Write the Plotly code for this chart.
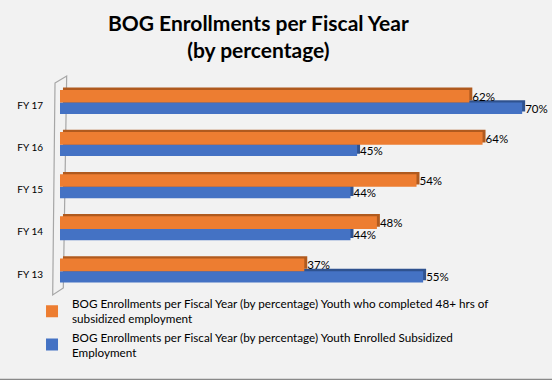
import plotly.graph_objects as go

# ---- data ----
categories = ["FY 13", "FY 14", "FY 15", "FY 16", "FY 17"]
completed_48 = [37, 48, 54, 64, 62]
enrolled = [55, 44, 44, 45, 70]
series_names = [
    "BOG Enrollments per Fiscal Year (by percentage) Youth who completed 48+ hrs of<br>subsidized employment",
    "BOG Enrollments per Fiscal Year (by percentage) Youth Enrolled Subsidized<br>Employment",
]
title_text = "<b>BOG Enrollments per Fiscal Year<br>(by percentage)</b>"

# ---- style ----
FONT = "Lato"
BG = "#f2f2f2"
ORANGE, ORANGE_DARK = "#ed7d31", "#b05a1e"
BLUE, BLUE_DARK = "#4472c4", "#2f528f"
DX, DY = 0.45, 0.055   # fake 3D depth (x in %, y in category units)

pos = list(range(len(categories)))

fig = go.Figure()

def add_series(vals, name, color, dark, offset, width, rank):
    # depth face (behind)
    fig.add_trace(go.Bar(
        y=pos, x=vals, base=[DX] * len(vals), orientation="h",
        offset=offset + DY, width=width, marker=dict(color=dark, line=dict(width=0)),
        showlegend=False, hoverinfo="skip"))
    # front face
    fig.add_trace(go.Bar(
        y=pos, x=vals, orientation="h", name=name,
        offset=offset, width=width, marker=dict(color=color, line=dict(width=0)),
        texttemplate="%{x}%", textposition="outside", cliponaxis=False,
        constraintext="none",
        outsidetextfont=dict(family=FONT, size=11.5, color="#000000"),
        legendrank=rank))

add_series(enrolled, series_names[1], BLUE, BLUE_DARK, -0.2, 0.27, 2)
add_series(completed_48, series_names[0], ORANGE, ORANGE_DARK, 0.07, 0.30, 1)

fig.update_layout(
    width=552, height=380, autosize=False,
    paper_bgcolor=BG, plot_bgcolor=BG,
    margin=dict(l=60, r=12, t=76, b=92),
    barmode="overlay",
    font=dict(family=FONT, color="#000000"),
    title=dict(text=title_text, x=0.468, xref="container", xanchor="center",
               y=0.918, yref="container", yanchor="top",
               font=dict(family=FONT, size=21, color="#000000")),
    xaxis=dict(range=[0, 72.7], showgrid=False, zeroline=False,
               showticklabels=False, showline=False, ticks=""),
    yaxis=dict(range=[-0.33, 4.7], tickvals=pos, ticktext=categories,
               showgrid=False, zeroline=False, showline=False, ticks="",
               ticklabelstandoff=16,
               tickfont=dict(family=FONT, size=10, color="#000000")),
    legend=dict(x=-0.0583, xanchor="left", y=-0.007, yanchor="top",
                bgcolor="rgba(0,0,0,0)", font=dict(family=FONT, size=11.7, color="#000000"),
                tracegroupgap=0, traceorder="normal"),
    shapes=[
        dict(type="path", xref="paper", yref="paper", layer="below",
             path="M -0.0104,0.967 L 0.0139,1 L 0.0069,0 L -0.0152,-0.033 Z",
             line=dict(color="#a6a6a6", width=1.2), fillcolor="rgba(0,0,0,0)"),
        dict(type="line", xref="paper", yref="paper",
             x0=-0.125, x1=1.025, y0=-0.4316, y1=-0.4316,
             line=dict(color="#898989", width=1.5)),
    ],
)

fig.write_html(
    "out.html",
    config={"displayModeBar": False},
    post_script="document.body.style.margin='0';document.body.style.overflow='hidden';",
)
